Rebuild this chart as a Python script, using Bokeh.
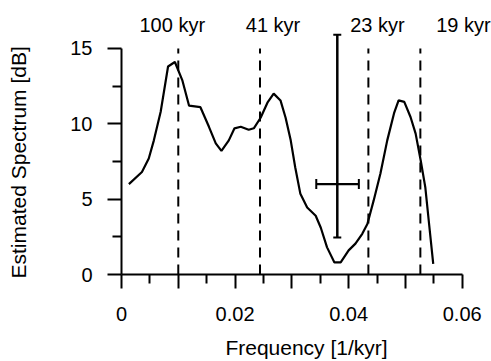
from bokeh.plotting import figure
from bokeh.models import Range1d, FixedTicker, ColumnDataSource, Whisker, TeeHead
from bokeh.core.properties import value
from bokeh.embed import file_html
from bokeh.resources import INLINE

# ---- data ----
freq = [0.0013, 0.0036, 0.0048, 0.0057, 0.0069, 0.0082, 0.0094, 0.0107, 0.0119, 0.0139,
        0.0154, 0.0166, 0.0176, 0.0189, 0.0199, 0.0210, 0.0224, 0.0233, 0.0245, 0.0257,
        0.0268, 0.0280, 0.0289, 0.0298, 0.0306, 0.0315, 0.0327, 0.0342, 0.0351, 0.0362,
        0.0375, 0.0386, 0.0400, 0.0412, 0.0424, 0.0433, 0.0444, 0.0456, 0.0468, 0.0480,
        0.0488, 0.0498, 0.0509, 0.0518, 0.0527, 0.0535, 0.0541, 0.0549]
spectrum = [6.0, 6.8, 7.7, 8.9, 10.8, 13.8, 14.1, 12.9, 11.2, 11.1,
            9.8, 8.7, 8.2, 8.9, 9.7, 9.8, 9.6, 9.7, 10.4, 11.4,
            12.0, 11.55, 10.4, 8.9, 7.1, 5.35, 4.45, 3.9, 3.1, 1.8,
            0.8, 0.8, 1.6, 2.05, 2.7, 3.35, 4.9, 6.7, 8.9, 10.7,
            11.55, 11.45, 10.45, 9.35, 7.55, 5.8, 3.6, 0.7]

periods = [100, 41, 23, 19]
period_labels = ["100 kyr", "41 kyr", "23 kyr", "19 kyr"]

err_x = [0.038]
err_y = [6.0]
err_y_low = [2.45]
err_y_high = [15.9]
err_x_low = [0.0343]
err_x_high = [0.0418]

x_major = [0, 0.01, 0.02, 0.03, 0.04, 0.05, 0.06]
x_minor = [0.005, 0.015, 0.025, 0.035, 0.045, 0.055]
x_labels = {0: "0", 0.01: "", 0.02: "0.02", 0.03: "", 0.04: "0.04", 0.05: "", 0.06: "0.06"}
y_major = [0, 5, 10, 15]
y_minor = [2.5, 7.5, 12.5]

FONT = "Liberation Sans"

p = figure(width=491, height=361, output_backend="svg", toolbar_location=None,
           x_range=Range1d(0, 0.06516), y_range=Range1d(0, 18.18),
           min_border_left=121, min_border_right=0, min_border_top=0, min_border_bottom=87,
           title="Estimated Spectrum [dB]", title_location="left")
p.outline_line_color = None
p.xgrid.visible = False
p.ygrid.visible = False
p.background_fill_color = "white"
p.border_fill_color = "white"

# y axis title drawn as a left-side title, anchored at the bottom of the frame
p.title.align = "left"
p.title.offset = -4
p.title.vertical_align = "top"
p.title.standoff = 10
p.title.text_font = FONT
p.title.text_font_size = "21px"
p.title.text_font_style = "normal"
p.title.text_color = "black"

# axes
for ax in (p.xaxis[0], p.yaxis[0]):
    ax.axis_line_width = 2
    ax.major_tick_line_width = 2
    ax.minor_tick_line_width = 2
    ax.major_tick_in = 0
    ax.major_tick_out = 14
    ax.minor_tick_in = 0
    ax.minor_tick_out = 9
    ax.major_label_text_font = FONT
    ax.major_label_text_font_size = "20px"
    ax.axis_label_text_font = FONT
    ax.axis_label_text_font_size = "21px"
    ax.axis_label_text_font_style = "normal"
    ax.major_label_text_color = "black"
    ax.axis_label_text_color = "black"

p.xaxis.bounds = (0, 0.06)
p.yaxis.bounds = (0, 15)
p.xaxis.ticker = FixedTicker(ticks=x_major, minor_ticks=x_minor)
p.yaxis.ticker = FixedTicker(ticks=y_major, minor_ticks=y_minor)
p.xaxis.major_label_overrides = x_labels
p.yaxis.major_label_overrides = {0: "0", 5: "5", 10: "10", 15: "15"}
p.xaxis.axis_label = "Frequency [1/kyr]"
p.yaxis.axis_label = " "          # blank spacer pushing the title outward
p.yaxis.axis_label_standoff = 5
p.xaxis.major_label_standoff = 18
p.yaxis.major_label_standoff = 15
p.xaxis.axis_label_standoff = 12

# period lines
pf = [1.0 / t for t in periods]
p.segment(x0=pf, x1=pf, y0=[0] * len(pf), y1=[15] * len(pf),
          line_color="black", line_width=2, line_dash="10 7")
p.text(x=pf, y=[16.55] * len(pf), text=period_labels,
       x_offset=[-6, 13, 9, 43], text_align="center", text_baseline="middle",
       text_font=value(FONT), text_font_size="20px", text_color="black")

# spectrum curve
p.line(freq, spectrum, line_color="black", line_width=2.2)

# error bars
src = ColumnDataSource(dict(x=err_x, y=err_y, ylo=err_y_low, yhi=err_y_high,
                            xlo=err_x_low, xhi=err_x_high))
p.segment(x0="x", x1="x", y0="ylo", y1="yhi", source=src, line_color="black", line_width=2.2)
p.segment(x0="xlo", x1="xhi", y0="y", y1="y", source=src, line_color="black", line_width=2.2)
p.add_layout(Whisker(source=src, base="x", lower="ylo", upper="yhi", dimension="height",
                     line_color="black", line_width=2,
                     lower_head=TeeHead(size=8, line_width=2, line_color="black"),
                     upper_head=TeeHead(size=8, line_width=2, line_color="black")))
p.add_layout(Whisker(source=src, base="y", lower="xlo", upper="xhi", dimension="width",
                     line_color="black", line_width=2,
                     lower_head=TeeHead(size=10, line_width=2, line_color="black"),
                     upper_head=TeeHead(size=10, line_width=2, line_color="black")))

open("out.html", "w").write(file_html(p, INLINE))
